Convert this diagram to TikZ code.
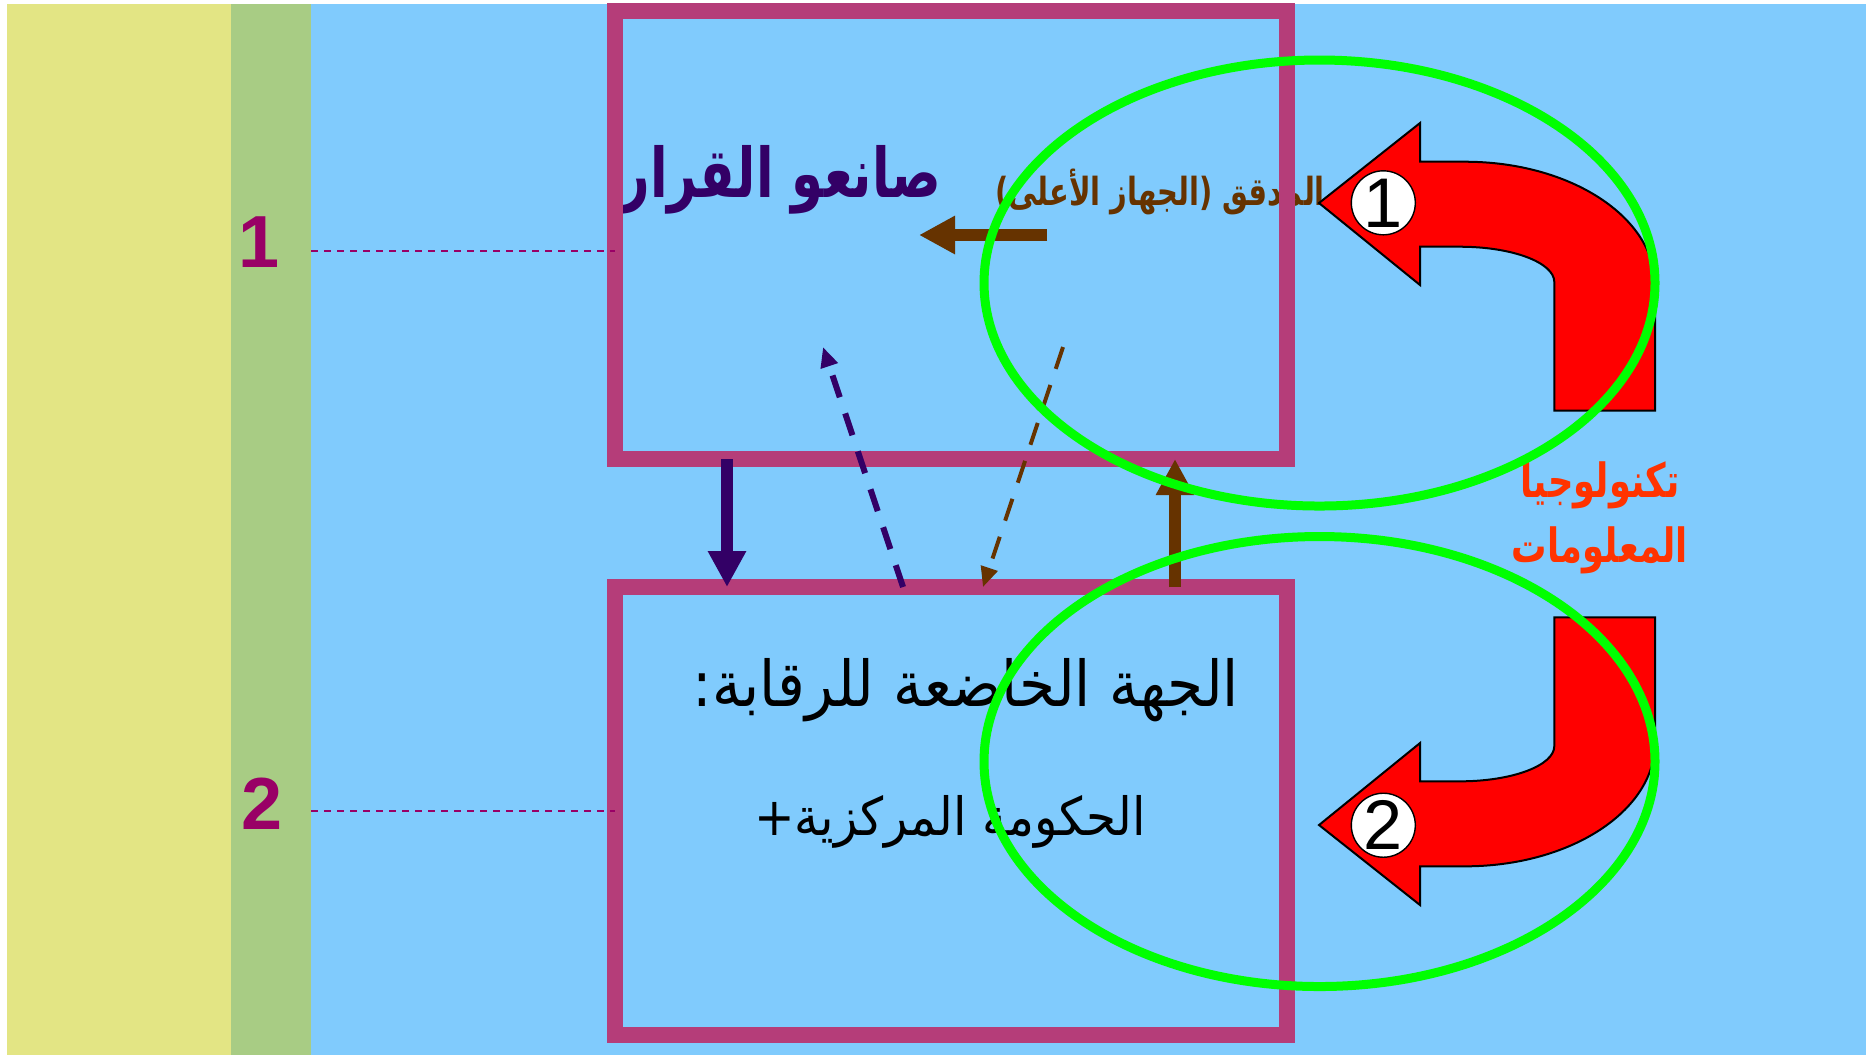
\documentclass[tikz,border=0pt]{standalone}
\usepackage{fontspec}
\usepackage{xcolor}
\usepackage{tikz}
\usetikzlibrary{arrows.meta}
\setmainfont{Liberation Sans}
\newfontfamily\arabicfont[Script=Arabic, FakeStretch=0.92]{DejaVu Sans}
\newfontfamily\arabicnarrow[Script=Arabic, FakeStretch=0.75]{DejaVu Sans}
\TeXXeTstate=1

\definecolor{bandyellow}{RGB}{227,229,132}
\definecolor{bandgreen}{RGB}{168,204,132}
\definecolor{sky}{RGB}{128,203,253}
\definecolor{rose}{RGB}{181,61,121}
\definecolor{indigo}{RGB}{51,0,102}
\definecolor{umber}{RGB}{102,51,0}
\definecolor{plum}{RGB}{153,0,102}
\definecolor{flame}{RGB}{255,51,0}
\definecolor{lime}{RGB}{0,255,0}

\begin{document}
\begin{tikzpicture}
	\useasboundingbox (0,0) rectangle (18.66,-10.55);
	\fill[bandyellow] (0.07,-0.04) rectangle (2.31,-10.55);
	\fill[bandgreen] (2.31,-0.04) rectangle (3.105,-10.55);
	\fill[sky] (3.105,-0.04) rectangle (18.66,-10.55);

	\begin{scope}[every node/.style = {text=plum, inner sep=0, font=\bfseries\fontsize{21}{21}\selectfont}]
		\node (n1) at (2.595,-2.425) {1};
		\node (n2) at (2.62,-8.035) {2};
	\end{scope}

	\node[text=indigo, font=\arabicnarrow\bfseries\fontsize{19.5}{19.5}\selectfont] (dm) at (7.81,-1.80) {\beginR صانعو القرار\endR};
	\node[text=umber, font=\arabicnarrow\bfseries\fontsize{11}{11}\selectfont] (aud) at (11.60,-1.92) {\beginR المدقق (الجهاز الأعلى)\endR};
	\node[font=\arabicfont\fontsize{18}{18}\selectfont] (ent) at (9.66,-6.90) {\beginR الجهة الخاضعة للرقابة:\endR};
	\node[font=\arabicfont\fontsize{15}{15}\selectfont] (gov) at (9.50,-8.22) {\beginR الحكومة المركزية+\endR};
	\node[text=flame, align=center, font=\arabicnarrow\bfseries\fontsize{13.4}{18.4}\selectfont] (it) at (16.0,-5.18) {\beginR تكنولوجيا\endR\\\beginR المعلومات\endR};

	\begin{scope}[every node/.style = {draw=rose, line width=0.16cm, minimum width=6.72cm, minimum height=4.48cm, inner sep=0, outer sep=0}]
		\node (box1) at (9.51,-2.35) {};
		\node (box2) at (9.51,-8.11) {};
	\end{scope}

	\coordinate (l1) at (3.11,-2.51);
	\coordinate (l2) at (3.11,-8.11);
	\draw[plum, line width=0.02cm, dash pattern=on 0.07cm off 0.06cm] (l1) -- (l1 -| box1.west);
	\draw[plum, line width=0.02cm, dash pattern=on 0.07cm off 0.06cm] (l2) -- (l2 -| box2.west);

	\begin{scope}[line width=0.12cm, >={Triangle[length=0.36cm, width=0.36cm]}]
		\draw[->, indigo] ([xshift=1.12cm]box1.south west) -- ([xshift=1.12cm]box2.north west);
		\draw[->, umber] ([xshift=-1.12cm]box2.north east) -- ([xshift=-1.12cm]box1.south east);
		\draw[->, umber] ([xshift=0.96cm]box1.center) -- ([xshift=-0.32cm]box1.center);
	\end{scope}

	\coordinate (dmq) at (8.23,-3.47);
	\coordinate (audq) at (10.63,-3.47);
	\begin{scope}[dash pattern=on 0.23cm off 0.17cm, >={Triangle[length=0.2cm, width=0.17cm]}]
		\draw[->, indigo, line width=0.06cm] ([xshift=2.88cm]box2.north west) -- (dmq);
		\draw[->, umber, line width=0.04cm] (audq) -- ([xshift=3.68cm]box2.north west);
	\end{scope}

	% u-turn arrows, the lower one mirrored
	\foreach \s/\dy in {1/0, -1/-10.28} {
		\begin{scope}[yshift=\dy cm, yscale=\s]
			\draw[fill=red, line width=0.02cm] (13.19,-2.03) -- (14.20,-1.23) -- (14.20,-1.617) -- (14.65,-1.617)
				arc[start angle=90, end angle=0, x radius=1.90, y radius=1.233] -- (16.55,-4.107) -- (15.543,-4.107) -- (15.543,-2.82)
				arc[start angle=0, end angle=90, x radius=0.943, y radius=0.353] -- (14.20,-2.467) -- (14.20,-2.85) -- cycle;
		\end{scope}
	}
	\begin{scope}[every node/.style = {circle, draw, fill=white, minimum size=0.64cm, inner sep=0, font=\fontsize{20}{20}\selectfont}]
		\node (c1) at (13.833,-2.028) {1};
		\node (c2) at (13.833,-8.252) {2};
	\end{scope}

	\draw[lime, line width=0.09cm] (13.195,-2.83) ellipse [x radius=3.355, y radius=2.23];
	\draw[lime, line width=0.09cm] (13.195,-7.615) ellipse [x radius=3.355, y radius=2.25];
\end{tikzpicture}
\end{document}
